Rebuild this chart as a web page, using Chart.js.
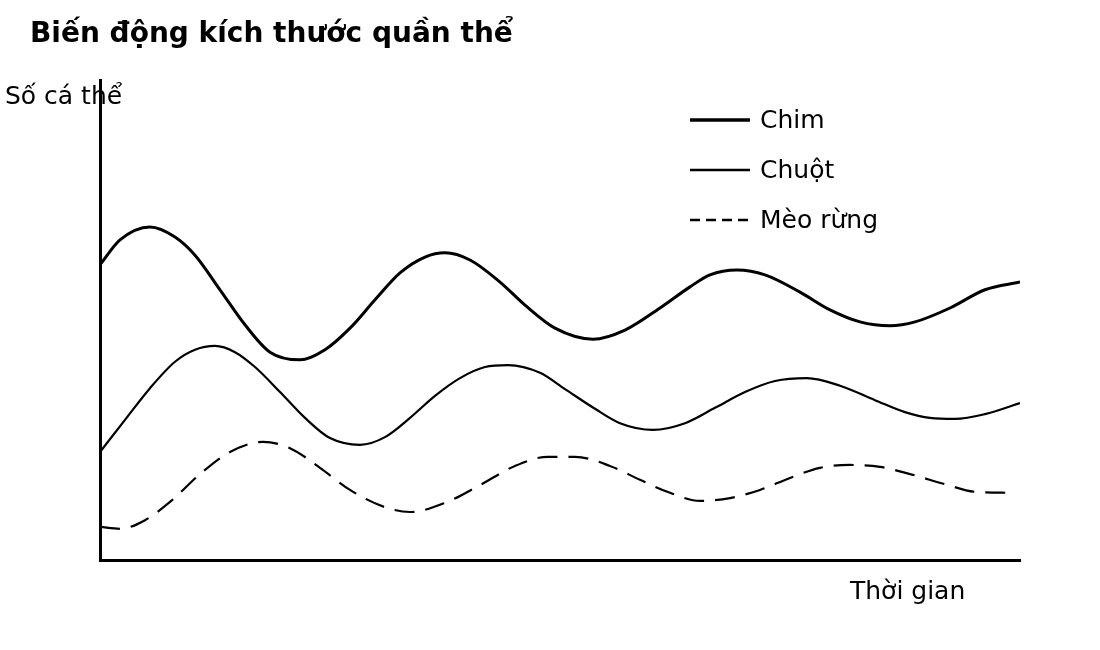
<!DOCTYPE html>
<html>
<head>
<meta charset="utf-8">
<script src="https://cdn.jsdelivr.net/npm/chart.js@4"></script>
<style>
  html, body { margin: 0; padding: 0; background: #fff; }
  #wrap { width: 1100px; height: 650px; }
</style>
</head>
<body>
<div id="wrap"><canvas id="c" width="1100" height="650"></canvas></div>
<script>
// ---- Data (time units 0..46, population units 0..100) ----
const chartTitle = "Biến động kích thước quần thể";
const yLabel = "Số cá thể";
const xLabel = "Thời gian";
const seriesNames = ["Chim", "Chuột", "Mèo rừng"];

const chimTime  = [0, 1, 2.5, 3.75, 4.75, 6, 7.25, 8.5, 10, 11.25, 12.5, 13.75, 15, 16.25, 17.25, 18.5, 20, 21.25, 22.75, 24.65, 26.25, 28, 29.5, 30.5, 31.85, 33.25, 35, 36.5, 38, 39.5, 40.75, 42.5, 44.25, 46];
const chimCount = [61.5, 66.7, 69.4, 67.3, 63.5, 56.3, 49.0, 43.3, 41.7, 43.8, 48.3, 54.2, 59.8, 63.1, 64.0, 62.5, 57.9, 53.1, 48.3, 46.0, 47.9, 52.5, 56.9, 59.4, 60.4, 59.4, 55.8, 52.1, 49.6, 48.8, 49.6, 52.5, 56.3, 57.9];

const chuotTime  = [0, 1.25, 2.5, 3.75, 4.75, 5.75, 6.75, 7.75, 9, 10.25, 11.5, 13, 14.25, 15.5, 16.75, 18, 19.25, 20.4, 22, 23.25, 24.75, 26, 27.65, 29.25, 30.75, 32.25, 33.75, 35.35, 37, 38.75, 40.25, 41.5, 42.75, 44.25, 46];
const chuotCount = [22.5, 29.2, 35.8, 41.3, 43.8, 44.6, 43.3, 40.2, 35.0, 29.6, 25.4, 24.0, 25.6, 29.6, 34.2, 37.9, 40.2, 40.6, 39.0, 35.6, 31.5, 28.5, 27.1, 28.5, 31.7, 35.0, 37.3, 37.9, 36.3, 33.3, 30.8, 29.6, 29.4, 30.4, 32.7];

const meoTime  = [0, 1, 2.25, 3.5, 5, 6.5, 8.15, 9.5, 11, 12.5, 14.25, 15.5, 17.25, 19, 20.75, 22.4, 23.75, 25.5, 27, 28.5, 30, 31.5, 33, 34.5, 36, 37.5, 39, 40.5, 42.25, 43.75, 45.5];
const meoCount = [6.9, 6.5, 8.3, 12.1, 17.9, 22.5, 24.6, 23.3, 19.2, 14.6, 11.0, 10.0, 11.9, 15.6, 19.6, 21.5, 21.5, 19.6, 16.7, 14.0, 12.3, 12.9, 14.6, 17.1, 19.2, 19.8, 19.4, 17.9, 15.8, 14.2, 14.0];

const timeMax = 46;
const countMax = 100;

function pts(t, v) { return t.map((x, i) => ({ x: x, y: v[i] })); }

const FONT = "'DejaVu Sans', sans-serif";

const textPlugin = {
  id: 'textPlugin',
  afterDraw(chart) {
    const ctx = chart.ctx;
    ctx.save();
    ctx.fillStyle = '#000';
    ctx.textBaseline = 'alphabetic';
    ctx.textAlign = 'left';
    ctx.font = "bold 28px " + FONT;
    ctx.fillText(chartTitle, 30, 42);
    ctx.font = "25px " + FONT;
    ctx.fillText(yLabel, 5, 104);
    ctx.fillText(xLabel, 850, 599);
    // legend
    const legendDash = [[], [], [10, 6]];
    chart.data.datasets.forEach((ds, i) => {
      const y = 120 + 50 * i;
      ctx.beginPath();
      ctx.setLineDash(legendDash[i]);
      ctx.lineWidth = ds.borderWidth + 0.5;
      ctx.strokeStyle = ds.borderColor;
      ctx.moveTo(690, y);
      ctx.lineTo(750, y);
      ctx.stroke();
      ctx.setLineDash([]);
      ctx.textBaseline = 'middle';
      ctx.font = "25px " + FONT;
      ctx.fillText(ds.label, 760, y + 1);
    });
    ctx.restore();
  }
};

new Chart(document.getElementById('c'), {
  type: 'line',
  data: {
    datasets: [
      { label: seriesNames[0], data: pts(chimTime, chimCount), borderColor: '#000', borderWidth: 3, pointRadius: 0, cubicInterpolationMode: 'monotone', fill: false },
      { label: seriesNames[1], data: pts(chuotTime, chuotCount), borderColor: '#000', borderWidth: 2.2, pointRadius: 0, cubicInterpolationMode: 'monotone', fill: false },
      { label: seriesNames[2], data: pts(meoTime, meoCount), borderColor: '#000', borderWidth: 2.2, borderDash: [20, 11], pointRadius: 0, cubicInterpolationMode: 'monotone', fill: false }
    ]
  },
  options: {
    responsive: false,
    animation: false,
    devicePixelRatio: 1,
    layout: { padding: { left: 100, top: 80, right: 80, bottom: 90 } },
    plugins: { legend: { display: false }, title: { display: false }, tooltip: { enabled: false } },
    scales: {
      x: {
        type: 'linear', min: 0, max: timeMax,
        grid: { display: false, drawTicks: false },
        ticks: { display: false },
        border: { display: true, color: '#000', width: 3 },
        afterFit(s) { s.height = 0; }
      },
      y: {
        type: 'linear', min: 0, max: countMax,
        grid: { display: false, drawTicks: false },
        ticks: { display: false },
        border: { display: true, color: '#000', width: 3 },
        afterFit(s) { s.width = 0; }
      }
    }
  },
  plugins: [textPlugin]
});
</script>
</body>
</html>
